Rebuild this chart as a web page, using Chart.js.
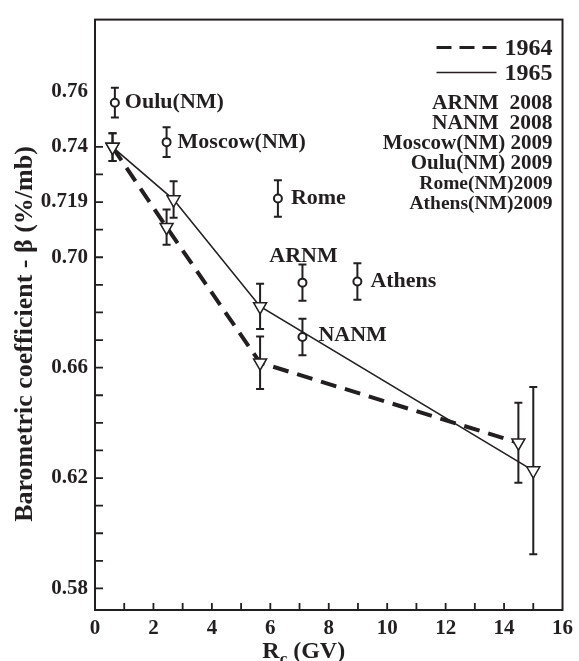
<!DOCTYPE html>
<html>
<head>
<meta charset="utf-8">
<script src="https://cdn.jsdelivr.net/npm/chart.js@4/dist/chart.umd.min.js"></script>
<style>
  html, body { margin: 0; padding: 0; background: #fff; }
  #wrap { width: 579px; height: 661px; }
</style>
</head>
<body>
<div id="wrap"><canvas id="chart" width="579" height="661"></canvas></div>
<script>
// 1964 survey (dashed) and 1965 survey (solid)
const rc1964 = [0.6, 2.45, 5.65, 14.49];
const beta1964 = [0.7399, 0.7109, 0.6618, 0.6328];
const err1964 = [0.005, 0.0064, 0.0095, 0.0145];

const rc1965 = [0.6, 2.69, 5.65, 15.0];
const beta1965 = [0.7399, 0.7209, 0.6822, 0.6227];
const err1965 = [0.005, 0.0066, 0.0082, 0.0303];

// neutron monitor stations
const stations = ["Oulu(NM)", "Moscow(NM)", "Rome", "ARNM", "NANM", "Athens"];
const rcStations = [0.68, 2.45, 6.26, 7.1, 7.1, 8.98];
const betaStations = [0.756, 0.7417, 0.7213, 0.6908, 0.6711, 0.6912];
const errStations = [0.0054, 0.0054, 0.0066, 0.0066, 0.0066, 0.0066];

const legendLines = ["ARNM  2008", "NANM  2008", "Moscow(NM) 2009", "Oulu(NM) 2009", "Rome(NM)2009", "Athens(NM)2009"];

const xTickVals = [0, 2, 4, 6, 8, 10, 12, 14, 16];
const yTickVals = [0.58, 0.62, 0.66, 0.70, 0.72, 0.74, 0.76];
const yTickText = ["0.58", "0.62", "0.66", "0.70", "0.719", "0.74", "0.76"];

const ink = "#231f20";
const serif = "'Liberation Serif', 'Times New Roman', serif";

// where each station name sits relative to its point: dx, dy, align
const labelPos = [[10, 0, "left"], [11, 0, "left"], [13, 0, "left"], [1, -26, "center"], [16, -2, "left"], [13, 0, "left"]];
const legendSizes = [21.5, 21.5, 21, 21, 19.5, 19.5];

const pts = (xs, ys) => xs.map((x, i) => ({ x: x, y: ys[i] }));

const errorBars = {
  id: "errorBars",
  beforeDatasetsDraw(chart) {
    const { ctx, scales: { x, y } } = chart;
    const sets = [[rc1964, beta1964, err1964], [rc1965, beta1965, err1965], [rcStations, betaStations, errStations]];
    ctx.save();
    ctx.strokeStyle = ink;
    ctx.lineWidth = 2;
    sets.forEach(([xs, ys, es]) => {
      xs.forEach((xv, i) => {
        const px = x.getPixelForValue(xv);
        const top = y.getPixelForValue(ys[i] + es[i]);
        const bot = y.getPixelForValue(ys[i] - es[i]);
        ctx.beginPath();
        ctx.moveTo(px, top); ctx.lineTo(px, bot);
        ctx.moveTo(px - 4, top); ctx.lineTo(px + 4, top);
        ctx.moveTo(px - 4, bot); ctx.lineTo(px + 4, bot);
        ctx.stroke();
      });
    });
    ctx.restore();
  }
};

const decor = {
  id: "decor",
  afterDraw(chart) {
    const { ctx, chartArea: a, scales: { x, y } } = chart;
    ctx.save();
    ctx.strokeStyle = ink;
    ctx.lineWidth = 2;
    ctx.strokeRect(a.left, a.top, a.right - a.left, a.bottom - a.top);

    // inward tick marks
    ctx.lineWidth = 1.8;
    ctx.beginPath();
    for (let v = 1; v < 16; v++) {
      const px = x.getPixelForValue(v);
      ctx.moveTo(px, a.bottom); ctx.lineTo(px, a.bottom - 7);
    }
    for (let k = 58; k <= 74; k++) {
      const py = y.getPixelForValue(k / 100);
      ctx.moveTo(a.left, py); ctx.lineTo(a.left + 8, py);
    }
    ctx.stroke();

    // station names
    ctx.fillStyle = ink;
    ctx.font = "bold 22px " + serif;
    ctx.textBaseline = "middle";
    stations.forEach((name, i) => {
      const [dx, dy, al] = labelPos[i];
      ctx.textAlign = al;
      ctx.fillText(name, x.getPixelForValue(rcStations[i]) + dx, y.getPixelForValue(betaStations[i]) + dy);
    });

    // legend
    const rx = a.right - 10;
    ctx.textAlign = "right";
    ctx.textBaseline = "alphabetic";
    ctx.font = "bold 24px " + serif;
    ctx.fillText("1964", rx, a.top + 35);
    ctx.fillText("1965", rx, a.top + 60);
    ctx.lineWidth = 3;
    ctx.setLineDash([15, 8]);
    ctx.beginPath(); ctx.moveTo(rx - 116, a.top + 28); ctx.lineTo(rx - 56, a.top + 28); ctx.stroke();
    ctx.setLineDash([]);
    ctx.lineWidth = 1.5;
    ctx.beginPath(); ctx.moveTo(rx - 116, a.top + 53); ctx.lineTo(rx - 56, a.top + 53); ctx.stroke();
    legendLines.forEach((t, i) => {
      ctx.font = "bold " + legendSizes[i] + "px " + serif;
      ctx.fillText(t, rx, a.top + 89 + i * 20);
    });

    // axis titles
    ctx.font = "bold 24px " + serif;
    ctx.textAlign = "left";
    const cx = (a.left + a.right) / 2 - 25;
    const w1 = ctx.measureText("R").width;
    ctx.font = "bold 17px " + serif;
    const w2 = ctx.measureText("c").width;
    ctx.font = "bold 24px " + serif;
    const w3 = ctx.measureText(" (GV)").width;
    let sx = cx - (w1 + w2 + w3) / 2;
    ctx.fillText("R", sx, 658);
    ctx.font = "bold 17px " + serif;
    ctx.fillText("c", sx + w1, 664);
    ctx.font = "bold 24px " + serif;
    ctx.fillText(" (GV)", sx + w1 + w2, 658);

    ctx.font = "bold 26px " + serif;
    ctx.translate(32, 334);
    ctx.rotate(-Math.PI / 2);
    ctx.textAlign = "center";
    ctx.fillText("Barometric coefficient - \u03b2 (%/mb)", 0, 0);
    ctx.restore();
  }
};

new Chart(document.getElementById("chart"), {
  type: "scatter",
  data: {
    datasets: [
      {
        label: "1964",
        data: pts(rc1964, beta1964),
        showLine: true,
        borderColor: ink,
        borderWidth: 4,
        borderDash: [16, 9],
        pointStyle: "triangle",
        rotation: 180,
        pointRadius: 7.5,
        pointBackgroundColor: "#fff",
        pointBorderColor: ink,
        pointBorderWidth: 1.5
      },
      {
        label: "1965",
        data: pts(rc1965, beta1965),
        showLine: true,
        borderColor: ink,
        borderWidth: 1.6,
        pointStyle: "triangle",
        rotation: 180,
        pointRadius: 7.5,
        pointBackgroundColor: "#fff",
        pointBorderColor: ink,
        pointBorderWidth: 1.5
      },
      {
        label: "stations",
        data: pts(rcStations, betaStations),
        pointStyle: "circle",
        pointRadius: 4,
        pointBackgroundColor: "#fff",
        pointBorderColor: ink,
        pointBorderWidth: 2
      }
    ]
  },
  options: {
    responsive: false,
    animation: false,
    layout: { padding: { top: 13, right: 14, left: 0, bottom: 0 } },
    plugins: { legend: { display: false }, tooltip: { enabled: false } },
    scales: {
      x: {
        type: "linear",
        min: 0,
        max: 16,
        afterFit: (s) => { s.height = 51; },
        afterBuildTicks: (s) => { s.ticks = xTickVals.map((v) => ({ value: v })); },
        grid: { display: false, drawTicks: false },
        border: { display: false },
        ticks: {
          padding: 6,
          maxRotation: 0,
          autoSkip: false,
          color: ink,
          font: { family: serif, size: 21, weight: "bold" },
          callback: (v) => String(v)
        }
      },
      y: {
        type: "linear",
        min: 0.5722,
        max: 0.7861,
        afterFit: (s) => { s.width = 95; },
        afterBuildTicks: (s) => { s.ticks = yTickVals.map((v) => ({ value: v })); },
        grid: { display: false, drawTicks: false },
        border: { display: false },
        ticks: {
          padding: 7,
          autoSkip: false,
          color: ink,
          font: { family: serif, size: 21, weight: "bold" },
          callback: (v, i) => yTickText[i]
        }
      }
    }
  },
  plugins: [errorBars, decor]
});
</script>
</body>
</html>
